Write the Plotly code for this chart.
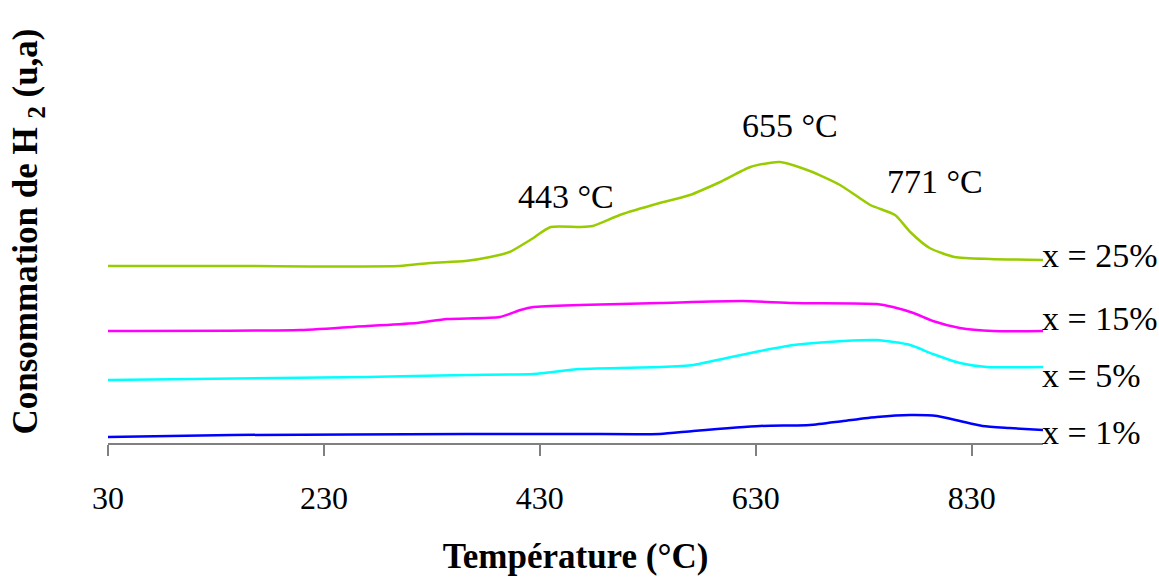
import plotly.graph_objects as go

# TPR profiles, signal in arbitrary units
temp_25 = [30, 150, 300, 328, 361, 384, 402, 421, 440, 467, 479, 504, 541, 569, 597, 625, 652, 680, 708, 736, 759, 773, 791, 814, 847, 896]
h2_25 = [1.77, 1.77, 1.77, 1.80, 1.82, 1.86, 1.91, 2.03, 2.16, 2.16, 2.17, 2.28, 2.40, 2.48, 2.61, 2.76, 2.81, 2.72, 2.58, 2.38, 2.28, 2.11, 1.95, 1.86, 1.84, 1.83]

temp_15 = [30, 208, 270, 316, 344, 393, 412, 424, 467, 541, 618, 665, 742, 757, 776, 794, 819, 850, 896]
h2_15 = [1.12, 1.13, 1.17, 1.20, 1.24, 1.26, 1.33, 1.36, 1.38, 1.40, 1.42, 1.40, 1.39, 1.36, 1.30, 1.22, 1.15, 1.12, 1.12]

temp_5 = [30, 270, 362, 424, 467, 541, 572, 603, 634, 665, 711, 742, 773, 794, 819, 844, 896]
h2_5 = [0.63, 0.66, 0.68, 0.69, 0.74, 0.76, 0.78, 0.85, 0.92, 0.98, 1.02, 1.03, 0.98, 0.89, 0.80, 0.76, 0.76]

temp_1 = [30, 145, 362, 467, 541, 572, 634, 680, 711, 742, 773, 798, 819, 840, 865, 896]
h2_1 = [0.06, 0.08, 0.09, 0.09, 0.09, 0.12, 0.17, 0.18, 0.22, 0.26, 0.28, 0.27, 0.22, 0.17, 0.15, 0.13]

series_names = ["x = 25%", "x = 15%", "x = 5%", "x = 1%"]
label_y = [1.88, 1.25, 0.68, 0.11]
colors = ["#99CC00", "#FF00FF", "#00FFFF", "#0000FF"]

peak_labels = ["443 °C", "655 °C", "771 °C"]
peak_x = [454, 662, 796]
peak_y = [2.47, 3.18, 2.62]

x_ticks = [30, 230, 430, 630, 830]

FONT = "Liberation Serif, Times New Roman, serif"

fig = go.Figure()

for t, v, name, color in zip([temp_25, temp_15, temp_5, temp_1],
                             [h2_25, h2_15, h2_5, h2_1], series_names, colors):
    fig.add_trace(go.Scatter(
        x=t, y=v, mode='lines', name=name,
        line=dict(color=color, width=2.5, shape='spline', smoothing=0.6),
        showlegend=False
    ))

# series labels at the right end of each curve
for name, y in zip(series_names, label_y):
    fig.add_annotation(x=893, y=y, xref='x', yref='y', text=name, showarrow=False,
                       xanchor='left', yanchor='middle',
                       font=dict(family=FONT, size=34, color='black'))

# peak temperatures
for txt, x, y in zip(peak_labels, peak_x, peak_y):
    fig.add_annotation(x=x, y=y, xref='x', yref='y', text=txt, showarrow=False,
                       xanchor='center', yanchor='middle',
                       font=dict(family=FONT, size=34, color='black'))

fig.update_layout(
    width=1159, height=583,
    margin=dict(l=108, r=116, t=20, b=140),
    paper_bgcolor='white', plot_bgcolor='white',
    font=dict(family=FONT, color='black'),
    xaxis=dict(
        range=[30, 896], automargin=False,
        tickvals=x_ticks,
        ticks='outside', ticklen=11, tickcolor='#808080', tickwidth=1.5,
        showline=True, linecolor='#808080', linewidth=1.5,
        showgrid=False, zeroline=False,
        tickfont=dict(family=FONT, size=32, color='black'),
        ticklabelstandoff=15,
        title=dict(text='Température (°C)', standoff=28,
                   font=dict(family=FONT, size=35, color='black', weight='bold')),
    ),
    yaxis=dict(
        range=[0, 4.23], automargin=False,
        showline=False, showticklabels=False, ticks='',
        showgrid=False, zeroline=False,
        title=dict(text='Consommation de H <sub>2</sub> (u,a)', standoff=58,
                   font=dict(family=FONT, size=35, color='black', weight='bold')),
    ),
)

# page body has a default 8px margin; drop it so the figure sits at 0,0
fig.write_html("out.html", config={"displayModeBar": False},
               post_script="document.body.style.margin='0';")
